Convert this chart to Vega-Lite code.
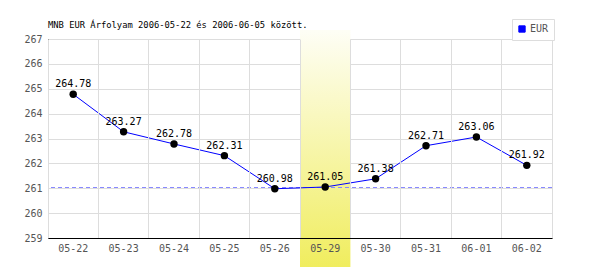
{
  "$schema": "https://vega.github.io/schema/vega-lite/v6.json",
  "width": 504,
  "height": 199,
  "autosize": {"type": "none"},
  "padding": {"left": 48, "top": 39, "right": 48, "bottom": 32},
  "background": "white",
  "title": {
    "text": "MNB EUR Árfolyam 2006-05-22 és 2006-06-05 között.",
    "anchor": "start",
    "frame": "group",
    "font": "DejaVu Sans Mono",
    "fontSize": 8.8,
    "fontWeight": "normal",
    "color": "#000000",
    "offset": -11
  },
  "config": {
    "view": {"stroke": "#dddddd", "strokeWidth": 1},
    "axis": {
      "labelFont": "DejaVu Sans Mono",
      "labelFontSize": 10,
      "labelColor": "#555555",
      "gridColor": "#dddddd",
      "gridOpacity": 1,
      "domainColor": "#000000",
      "ticks": false,
      "title": null,
      "labelOverlap": false
    }
  },
  "datasets": {
    "rates": [
      {"date": "05-22", "rate": 264.78},
      {"date": "05-23", "rate": 263.27},
      {"date": "05-24", "rate": 262.78},
      {"date": "05-25", "rate": 262.31},
      {"date": "05-26", "rate": 260.98},
      {"date": "05-29", "rate": 261.05},
      {"date": "05-30", "rate": 261.38},
      {"date": "05-31", "rate": 262.71},
      {"date": "06-01", "rate": 263.06},
      {"date": "06-02", "rate": 261.92}
    ],
    "band": [{"date": "05-29", "top": 267.36, "bottom": 257.83}],
    "ref": [{"level": 261.03}]
  },
  "layer": [
    {
      "data": {"name": "band"},
      "mark": {
        "type": "rect",
        "color": {
          "gradient": "linear",
          "x1": 0, "y1": 0, "x2": 0, "y2": 1,
          "stops": [
            {"offset": 0, "color": "#fefef6"},
            {"offset": 1, "color": "#f0ed5e"}
          ]
        }
      },
      "encoding": {
        "x": {
          "field": "date", "type": "nominal", "sort": null,
          "scale": {
            "domain": ["05-22","05-23","05-24","05-25","05-26","05-29","05-30","05-31","06-01","06-02"],
            "paddingInner": 0, "paddingOuter": 0
          },
          "axis": {"labelAngle": 0, "labelPadding": 5, "grid": true, "bandPosition": 0, "zindex": 1}
        },
        "y": {
          "field": "top", "type": "quantitative",
          "scale": {"domain": [259, 267], "nice": false, "zero": false},
          "axis": {"values": [259,260,261,262,263,264,265,266,267], "tickCount": 12, "format": "d", "labelPadding": 6, "grid": true, "zindex": 0}
        },
        "y2": {"field": "bottom"}
      }
    },
    {
      "data": {"name": "ref"},
      "mark": {"type": "rule", "color": "#8888ff", "strokeDash": [4, 3], "strokeWidth": 1},
      "encoding": {"y": {"field": "level", "type": "quantitative", "axis": {"values": [259,260,261,262,263,264,265,266,267], "tickCount": 12, "format": "d", "labelPadding": 6, "grid": true, "zindex": 0}}}
    },
    {
      "data": {"name": "rates"},
      "mark": {"type": "line", "strokeWidth": 1},
      "encoding": {
        "x": {"field": "date", "type": "nominal", "sort": null, "axis": {"labelAngle": 0, "labelPadding": 5, "grid": true, "bandPosition": 0, "zindex": 1}},
        "y": {"field": "rate", "type": "quantitative", "axis": {"values": [259,260,261,262,263,264,265,266,267], "tickCount": 12, "format": "d", "labelPadding": 6, "grid": true, "zindex": 0}},
        "color": {
          "datum": "EUR",
          "type": "nominal",
          "scale": {"domain": ["EUR"], "range": ["#0000ff"]},
          "legend": {
            "title": null,
            "orient": "none",
            "legendX": 464,
            "legendY": -20,
            "symbolType": "square",
            "symbolSize": 40,
            "symbolStrokeWidth": 1,
            "labelFont": "DejaVu Sans Mono",
            "labelFontSize": 10,
            "labelColor": "#555555",
            "labelOffset": 3,
            "padding": 5,
            "strokeColor": "#dddddd",
            "fillColor": "white",
            "encode": {
              "symbols": {"update": {"fill": {"value": "#0000ff"}, "stroke": {"value": "#666666"}, "strokeDash": {"value": []}}}
            }
          }
        }
      }
    },
    {
      "data": {"name": "rates"},
      "mark": {"type": "circle", "size": 55, "color": "#000000", "opacity": 1},
      "encoding": {
        "x": {"field": "date", "type": "nominal", "sort": null},
        "y": {"field": "rate", "type": "quantitative"}
      }
    },
    {
      "data": {"name": "rates"},
      "mark": {"type": "text", "font": "DejaVu Sans Mono", "fontSize": 10, "color": "#000000", "baseline": "bottom", "dy": -5},
      "encoding": {
        "x": {"field": "date", "type": "nominal", "sort": null},
        "y": {"field": "rate", "type": "quantitative"},
        "text": {"field": "rate", "type": "quantitative", "format": ".2f"}
      }
    }
  ]
}
